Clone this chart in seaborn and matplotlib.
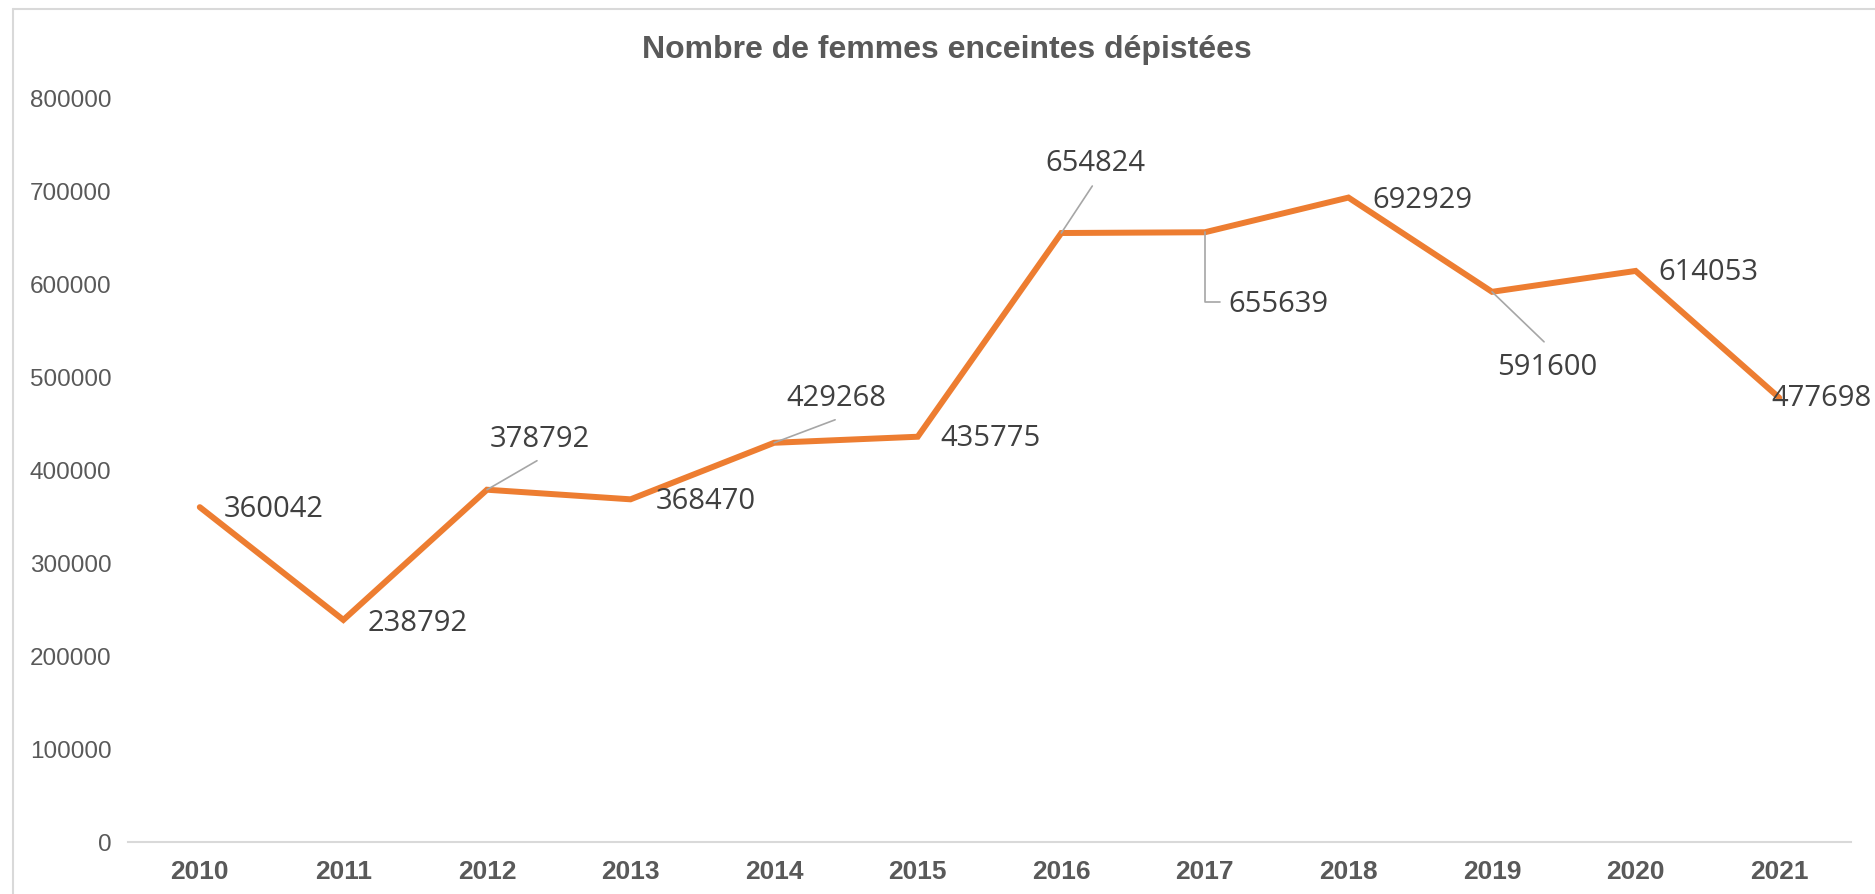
import pandas as pd
import matplotlib.pyplot as plt
import seaborn as sns
from matplotlib.lines import Line2D

# Données
annees = ['2010', '2011', '2012', '2013', '2014', '2015',
          '2016', '2017', '2018', '2019', '2020', '2021']
femmes_depistees = [360042, 238792, 378792, 368470, 429268, 435775,
                    654824, 655639, 692929, 591600, 614053, 477698]

df = pd.DataFrame({'Annee': annees, 'Femmes': femmes_depistees})

sns.set_style("white")
plt.rcParams['font.family'] = ['Liberation Sans', 'DejaVu Sans']

fig = plt.figure(figsize=(18.75, 8.95), dpi=100)
ax = fig.add_axes([128 / 1875, 52 / 895, (1851 - 128) / 1875, (843 - 99) / 895])

sns.lineplot(data=df, x='Annee', y='Femmes', ax=ax, color='#ED7D31',
             linewidth=4.3, solid_capstyle='round', solid_joinstyle='miter',
             sort=False)

ax.set_xlim(-0.5, len(annees) - 0.5)
ax.set_ylim(0, 800000)
ax.set_yticks(range(0, 800001, 100000))
ax.set_yticklabels([str(v) for v in range(0, 800001, 100000)])
ax.set_xlabel('')
ax.set_ylabel('')

for side in ['top', 'right', 'left']:
    ax.spines[side].set_visible(False)
ax.spines['bottom'].set_color('#D9D9D9')
ax.spines['bottom'].set_linewidth(1.5)

ax.tick_params(axis='y', length=0, pad=12, labelsize=17.5, labelcolor='#595959')
ax.tick_params(axis='x', length=0, pad=12, labelsize=19, labelcolor='#595959')
for lab in ax.get_xticklabels():
    lab.set_fontweight('bold')

# Étiquettes de données (décalage en pixels)
offsets = [(24, -1), (24, -3), (3, 51), (25, -1), (12, 45), (23, -1),
           (-16, 71), (23, -71), (24, -2), (5, -75), (23, -1), (-8, 0)]
# lignes de repère
leaders = {2: (50, 29), 4: (61, 23), 6: (31, 47), 9: (52, -50)}

for i, (val, off) in enumerate(zip(femmes_depistees, offsets)):
    ax.annotate(str(val), xy=(i, val), xytext=off, textcoords='offset pixels',
                ha='left', va='center', fontsize=21, color='#404040',
                family=['Open Sans', 'DejaVu Sans'])
    if i in leaders:
        ax.annotate('', xy=(i, val), xytext=leaders[i], textcoords='offset pixels',
                    arrowprops=dict(arrowstyle='-', color='#A6A6A6', lw=1.2,
                                    shrinkA=0, shrinkB=0))
# repère coudé pour 2017
ax.annotate('', xy=(7, femmes_depistees[7]), xytext=(15, -70), textcoords='offset pixels',
            arrowprops=dict(arrowstyle='-', color='#A6A6A6', lw=1.2, shrinkA=0, shrinkB=0,
                            connectionstyle='angle,angleA=0,angleB=90,rad=0'))

# Titre
fig.text(947 / 1875, 1 - 50 / 895, 'Nombre de femmes enceintes dépistées',
         ha='center', va='center', fontsize=23, fontweight='bold', color='#595959')

# Cadre du graphique
fig.add_artist(Line2D([13 / 1875, 1.0], [1 - 10 / 895, 1 - 10 / 895],
                      color='#D9D9D9', lw=1.5, transform=fig.transFigure))
fig.add_artist(Line2D([13 / 1875, 13 / 1875], [0.0, 1 - 10 / 895],
                      color='#D9D9D9', lw=1.5, transform=fig.transFigure))

fig.savefig('out.png', dpi=100)
